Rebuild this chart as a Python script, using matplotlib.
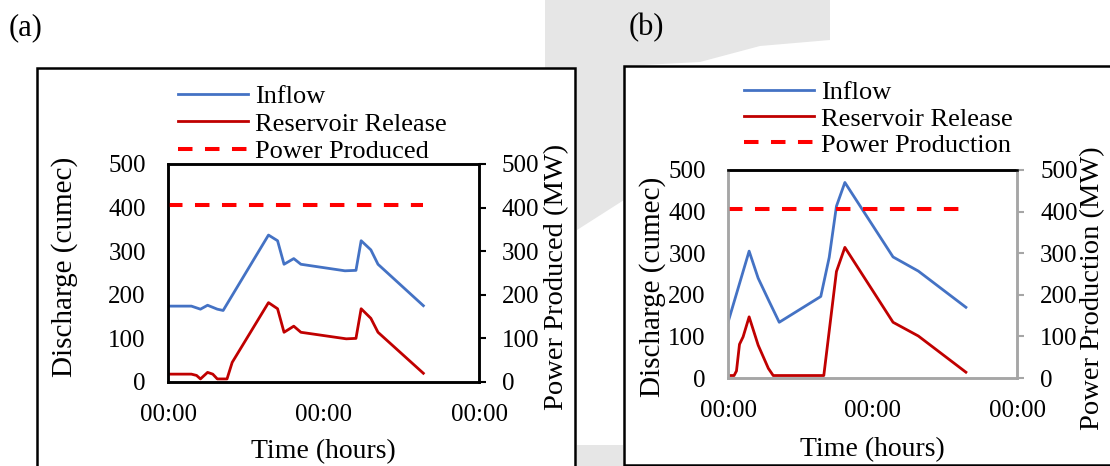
import matplotlib
matplotlib.use("Agg")
from matplotlib import pyplot as plt
from matplotlib.patches import Rectangle, Polygon

plt.rcParams['font.family'] = ['Liberation Serif', 'DejaVu Serif']
plt.rcParams['font.size'] = 18

BLUE = "#4472C4"
DRED = "#C00000"
RED = "#FF0000"
SHADE = "#E6E6E6"

# event (a): time in hours, discharge in cumec
a_in_t = [0, 3.6, 5.0, 6.1, 7.6, 8.5, 15.5, 16.9, 17.9, 19.4, 20.5, 27.3, 29.0, 29.8, 31.3, 32.4, 39.4]
a_in_q = [174, 174, 167, 176, 167, 164, 337, 324, 270, 283, 270, 255, 256, 324, 303, 270, 175]
a_rel_t = [0, 3.6, 4.4, 5.0, 6.1, 6.9, 7.6, 9.1, 9.9, 15.5, 16.9, 17.9, 19.4, 20.5, 27.5, 29.0, 29.8, 31.3, 32.4, 39.4]
a_rel_q = [18, 18, 15, 7, 22, 18, 7, 7, 45, 182, 168, 114, 128, 114, 99, 100, 168, 146, 114, 20]
a_pow_t = [0, 39.4]
a_pow = [406, 406]

# event (b)
b_in_t = [0, 3.5, 5.0, 6.8, 8.5, 15.4, 16.8, 18.0, 19.4, 27.4, 31.6, 39.5]
b_in_q = [134, 305, 240, 185, 134, 196, 290, 413, 470, 291, 257, 170]
b_rel_t = [0, 1.0, 1.4, 1.9, 2.5, 3.5, 5.0, 6.7, 7.5, 15.9, 18.0, 19.4, 27.4, 31.6, 39.5]
b_rel_q = [6, 6, 17, 81, 99, 147, 79, 23, 6, 6, 256, 314, 134, 101, 14]
b_pow_t = [0, 39.5]
b_pow = [406, 406]

xticks = [0, 24, 48]
xticklabels = ["00:00", "00:00", "00:00"]
yticks = [0, 100, 200, 300, 400, 500]

W, H = 1110, 466
fig = plt.figure(figsize=(W / 100, H / 100), dpi=100)


def px(x, y):
    return (x / W, 1 - y / H)


# light grey background shapes behind the panels
fig.patches.append(Polygon([px(545, 0), px(830, 0), px(830, 40), px(760, 46), px(700, 62),
                            px(624, 66), px(624, 200), px(577, 230), px(577, 68), px(545, 68)],
                           closed=True, transform=fig.transFigure, fc=SHADE, ec="none", zorder=-5))
fig.patches.append(Rectangle(px(577, 466), 46 / W, 21 / H, transform=fig.transFigure,
                             fc=SHADE, ec="none", zorder=-5))

# outer frames around each panel
fig.patches.append(Rectangle((0.0333, -0.01), 0.4847, 0.864, transform=fig.transFigure,
                             fc="white", ec="black", lw=1.8, clip_on=False, zorder=-4))
fig.patches.append(Rectangle((0.5622, 0.0021), 0.46, 0.8563, transform=fig.transFigure,
                             fc="white", ec="black", lw=1.8, clip_on=False, zorder=-4))
fig.text(0.0228, 0.94, "(a)", ha="center", va="center", fontsize=22)
fig.text(0.5824, 0.94, "(b)", ha="center", va="center", fontsize=22)


def panel(rect, in_t, in_q, rel_t, rel_q, pow_t, pow_v, pow_name, leg_anchor, leg_sp,
          ylab_pos, rlab_pos, xlab_y, frame_col):
    ax = fig.add_axes(rect)
    ax2 = ax.twinx()
    ax.patch.set_alpha(0)
    l1, = ax.plot(in_t, in_q, color=BLUE, lw=2, label="Inflow")
    l2, = ax.plot(rel_t, rel_q, color=DRED, lw=2, label="Reservoir Release")
    l3, = ax2.plot(pow_t, pow_v, color=RED, lw=2.9, dashes=(3.6, 3.1), label=pow_name)
    for a in (ax, ax2):
        a.set_xlim(0, 48)
        a.set_ylim(0, 500)
        a.set_yticks(yticks)
    ax.set_xticks(xticks)
    ax.set_xticklabels(xticklabels)
    ax.tick_params(axis="x", length=0, pad=16)
    ax.tick_params(axis="y", length=0, pad=16)
    ax2.tick_params(axis="y", length=5, width=1.5, pad=11.5, color=frame_col)
    for a in (ax, ax2):
        for s in a.spines.values():
            s.set_linewidth(1.8)
            s.set_color(frame_col)
        a.spines["top"].set_color("black")
    ax.set_ylabel("Discharge (cumec)", fontsize=21)
    ax.yaxis.set_label_coords(*ylab_pos)
    ax2.set_ylabel(pow_name + " (MW)", rotation=90, fontsize=20.5)
    ax2.yaxis.set_label_coords(*rlab_pos)
    ax.set_xlabel("Time (hours)", fontsize=20)
    ax.xaxis.set_label_coords(0.5, xlab_y)
    fig.legend(handles=[l1, l2, l3], loc="upper left", bbox_to_anchor=leg_anchor,
               frameon=False, borderpad=0, borderaxespad=0, handlelength=2.65,
               handletextpad=0.28, labelspacing=leg_sp, fontsize=19)
    return ax


panel([0.1514, 0.1803, 0.2802, 0.4678], a_in_t, a_in_q, a_rel_t, a_rel_q, a_pow_t, a_pow,
      "Power Produced", px(178, 85), 0.14,
      (-0.289, 0.528), (1.208, 0.48), -0.262, "black")
panel([0.6559, 0.1888, 0.2604, 0.4464], b_in_t, b_in_q, b_rel_t, b_rel_q, b_pow_t, b_pow,
      "Power Production", px(744, 81), 0.1,
      (-0.215, 0.4375), (1.218, 0.433), -0.283, "#A6A6A6")

fig.savefig("out.png", dpi=100)
